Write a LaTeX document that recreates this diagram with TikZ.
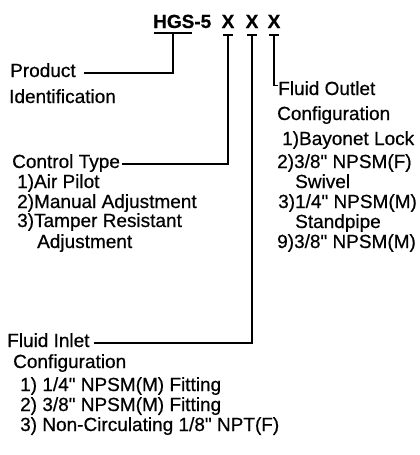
\documentclass[tikz,border=0pt]{standalone}
\usepackage{fontspec}
\setmainfont{Liberation Sans}[Ligatures=TeXOff, FakeBold=0.6]
\usetikzlibrary{positioning}

\begin{document}
\begin{tikzpicture}[%
            x=1pt, y=-1pt,
            txt/.style={inner sep=0pt, anchor=base west, font=\fontsize{19}{20}\selectfont},
            code/.style={inner sep=0pt, anchor=base, font=\fontsize{19}{20}\selectfont\bfseries},
            conn/.style={line width=1.2pt}
            ]
            \useasboundingbox (0,0) rectangle (420,455);

            % model number
            \node[txt, font=\fontsize{19}{20}\selectfont\bfseries] (hgs) at (153,28) {HGS-5};
            \foreach \name/\xpos in {x1/228, x2/252, x3/274}
                \node[code] (\name) at (\xpos,28) {X};
            \foreach \name in {x1,x2,x3} {
                \coordinate (\name-t) at ([yshift=-7pt]\name.base);
                \draw[conn] ([xshift=-5pt]\name-t) -- ([xshift=5pt]\name-t);
            }
            \coordinate (hgs-t) at ([xshift=20pt,yshift=-5pt]hgs.base west);
            \draw[conn] ([xshift=-19pt]hgs-t) -- ([xshift=19pt]hgs-t);

            % product
            \node[txt] (prod) at (10,77) {Product};
            \node[txt] (prod2) at (9,103) {Identification};
            \draw[conn] ([xshift=8pt,yshift=4pt]prod.base east) -| (hgs-t);

            % control type
            \node[txt] (ctrl) at (12,168) {Control Type};
            \foreach \xpos/\ypos/\txt [count=\i] in {17/188/{1)Air Pilot},
                    17/208/{2)Manual Adjustment}, 17/227/{3)Tamper Resistant},
                    37/248/{Adjustment}}
                \node[txt] (ctrl\i) at (\xpos,\ypos) {\txt};
            \draw[conn] ([xshift=2pt,yshift=4pt]ctrl.base east) -| (x1-t);

            % fluid outlet
            \node[txt] (outlet) at (278,95) {Fluid Outlet};
            \foreach \xpos/\ypos/\txt [count=\i] in {277/120/{Configuration},
                    282/145/{1)Bayonet Lock}, 277/168/{2)3/8" NPSM(F)},
                    295/188/{Swivel}, 278/208/{3)1/4" NPSM(M)},
                    295/228/{Standpipe}, 277/248/{9)3/8" NPSM(M)}}
                \node[txt] (outlet\i) at (\xpos,\ypos) {\txt};
            \draw[conn] (x3-t) |- ([yshift=3pt]outlet.west);

            % fluid inlet
            \node[txt] (inlet) at (7,347) {Fluid Inlet};
            \foreach \xpos/\ypos/\txt [count=\i] in {13/368/{Configuration},
                    20/391/{1) 1/4" NPSM(M) Fitting}, 20/411/{2) 3/8" NPSM(M) Fitting},
                    20/431/{3) Non-Circulating 1/8" NPT(F)}}
                \node[txt] (inlet\i) at (\xpos,\ypos) {\txt};
            \draw[conn] ([xshift=4pt,yshift=4pt]inlet.base east) -| (x2-t);

        \end{tikzpicture}
\end{document}
